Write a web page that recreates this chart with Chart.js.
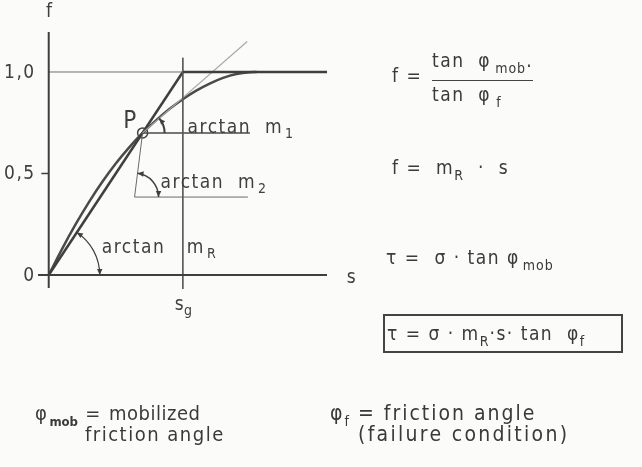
<!DOCTYPE html>
<html>
<head>
<meta charset="utf-8">
<script src="https://cdn.jsdelivr.net/npm/chart.js@4.4.1/dist/chart.umd.min.js"></script>
<style>
  html, body { margin: 0; padding: 0; background: #fbfbfa; }
  #wrap { position: relative; width: 642px; height: 467px; overflow: hidden; }
  #wrap canvas { position: absolute; left: 0; top: 0; }
  .t {
    position: absolute;
    font-family: "DejaVu Sans Condensed", "DejaVu Sans", sans-serif;
    font-size: 19px;
    letter-spacing: 1.5px;
    color: #3a3a3a;
    line-height: 1;
    white-space: nowrap;
  }
  .sub { font-size: 14px; position: relative; top: 6px; letter-spacing: 1px; }
  .subb { font-size: 13px; position: relative; top: 6px; font-weight: bold; letter-spacing: 0; margin-left: 1px; }
  .frac { position: absolute; border-top: 1.5px solid #444; height: 0; }
  .box { position: absolute; border: 2px solid #444; }
</style>
</head>
<body>
<div id="wrap">
  <canvas id="c" width="642" height="467"></canvas>

  <!-- definition of the utilisation ratio -->
  <div class="t" style="left:392px; top:66px;">f =</div>
  <div class="t" style="left:432px; top:51px;">tan &nbsp;φ<span class="sub" style="margin-left:4px">mob</span>.</div>
  <div class="frac" style="left:432px; top:80px; width:101px;"></div>
  <div class="t" style="left:432px; top:85px;">tan &nbsp;φ<span class="sub">&nbsp;f</span></div>

  <div class="t" style="left:392px; top:158px;">f = &nbsp;m<span class="sub">R</span> &nbsp;· &nbsp;s</div>

  <div class="t" style="left:386px; top:248px;">τ = &nbsp;σ · tan φ<span class="sub" style="margin-left:3px">mob</span></div>

  <div class="box" style="left:383px; top:314px; width:236px; height:35px;"></div>
  <div class="t" style="left:387px; top:324px;">τ = σ · m<span class="sub">R</span>·s· tan &nbsp;φ<span class="sub">f</span></div>

  <!-- legend of symbols -->
  <div class="t" style="left:35px; top:403px; font-size:20px;">φ<span class="subb">mob</span> = <span style="letter-spacing:0.5px">mobilized</span></div>
  <div class="t" style="left:85px; top:424px; font-size:20px;">friction angle</div>
  <div class="t" style="left:330px; top:403px; font-size:21px; letter-spacing:2px;">φ<span class="sub">f</span> = friction angle</div>
  <div class="t" style="left:358px; top:424px; font-size:21px; letter-spacing:2.3px;">(failure condition)</div>
</div>

<script>
// mobilisation curve f(s)
const sCurve = [0, 0.1, 0.2, 0.3, 0.4, 0.5, 0.6, 0.7, 0.8, 0.9, 1.0, 1.1, 1.2, 1.3, 1.4, 1.5, 1.55];
const fCurve = [0, 0.129, 0.249, 0.359, 0.459, 0.549, 0.629, 0.70, 0.762, 0.818, 0.866, 0.908, 0.943, 0.971, 0.99, 0.999, 1.0];

// secant through the origin, slope m_R, reaching f = 1 at s_g
const sSecant = [0, 1.0];
const fSecant = [0, 1.0];

// characteristic points
const sG = 1.0;
const fLimit = 1.0;
const pointP = { s: 0.7, f: 0.7 };
const tangentEnd = { s: 1.48, f: 1.15 };
const m1End = 1.5;
const m2Corner = { s: 0.64, f: 0.384 };
const m2End = 1.485;

// axis extents and ticks
const sMin = -0.08, sMax = 2.075;
const fMin = -0.064, fMax = 1.197;
const yTicks = [0, 0.5, 1.0];
const yTickLabels = ['0', '0,5', '1,0'];

const INK = '#3f3f3f';
const FONT = '"DejaVu Sans Condensed", "DejaVu Sans", sans-serif';

const pts = (xs, ys) => xs.map((x, i) => ({ x, y: ys[i] }));
const seg = (a, b, color, width, extra) => Object.assign({
  data: [a, b], borderColor: color, borderWidth: width, pointRadius: 0,
  fill: false, tension: 0, clip: false
}, extra || {});

const datasets = [
  // axes
  seg({ x: 0, y: fMin }, { x: 0, y: fMax }, INK, 2),
  seg({ x: sMin, y: 0 }, { x: sMax, y: 0 }, INK, 2),
  // tick mark at 0,5
  seg({ x: -0.055, y: 0.5 }, { x: 0, y: 0.5 }, INK, 1.5),
  // f = 1 reference line: thin up to s_g, thick beyond
  seg({ x: 0, y: fLimit }, { x: sG, y: fLimit }, '#707070', 1),
  seg({ x: sG, y: fLimit }, { x: sMax, y: fLimit }, INK, 2.5),
  // s_g marker
  seg({ x: sG, y: 1.07 }, { x: sG, y: fMin - 0.005 }, '#5a5a5a', 1),
  // tangent at P
  seg({ x: pointP.s, y: pointP.f }, { x: tangentEnd.s, y: tangentEnd.f }, '#a8a8a8', 1.2),
  // horizontal reference at P
  seg({ x: pointP.s, y: pointP.f }, { x: m1End, y: pointP.f }, '#4a4a4a', 1.5),
  // construction for m_2
  { data: [{ x: pointP.s, y: pointP.f }, { x: m2Corner.s, y: m2Corner.f }, { x: m2End, y: m2Corner.f }],
    borderColor: '#6a6a6a', borderWidth: 1, pointRadius: 0, fill: false, tension: 0, clip: false },
  // secant m_R
  { data: pts(sSecant, fSecant), borderColor: INK, borderWidth: 2.5, pointRadius: 0,
    fill: false, tension: 0, clip: false },
  // mobilisation curve
  { data: pts(sCurve, fCurve), borderColor: '#4a4a4a', borderWidth: 2.5, pointRadius: 0,
    fill: false, cubicInterpolationMode: 'monotone', clip: false },
  // point P
  { data: [{ x: pointP.s, y: pointP.f }], showLine: false, pointRadius: 5, pointStyle: 'circle',
    pointBorderColor: INK, pointBorderWidth: 1.5, pointBackgroundColor: 'rgba(0,0,0,0)', clip: false }
];

function arrowHead(ctx, x, y, dx, dy, size) {
  const len = Math.hypot(dx, dy);
  dx /= len; dy /= len;
  const nx = -dy, ny = dx;
  ctx.beginPath();
  ctx.moveTo(x, y);
  ctx.lineTo(x - dx * size + nx * size * 0.45, y - dy * size + ny * size * 0.45);
  ctx.lineTo(x - dx * size - nx * size * 0.45, y - dy * size - ny * size * 0.45);
  ctx.closePath();
  ctx.fill();
}

// arc from angle a0 to a1 (canvas radians) with optional arrowheads at each end
function angleArc(ctx, cx, cy, r, a0, a1, width, arrows) {
  ctx.lineWidth = width;
  ctx.beginPath();
  ctx.arc(cx, cy, r, a0, a1, false);
  ctx.stroke();
  if (arrows[0]) {
    arrowHead(ctx, cx + r * Math.cos(a0), cy + r * Math.sin(a0), Math.sin(a0), -Math.cos(a0), 6);
  }
  if (arrows[1]) {
    arrowHead(ctx, cx + r * Math.cos(a1), cy + r * Math.sin(a1), -Math.sin(a1), Math.cos(a1), 6);
  }
}

const annotate = {
  id: 'annotate',
  afterDatasetsDraw(chart) {
    const { ctx, scales: { x, y } } = chart;
    const X = v => x.getPixelForValue(v);
    const Y = v => y.getPixelForValue(v);
    ctx.save();
    ctx.fillStyle = INK;
    ctx.strokeStyle = INK;

    const ox = X(0), oy = Y(0);
    const px = X(pointP.s), py = Y(pointP.f);

    // angle of the secant
    const aR = Math.atan2(Y(fSecant[1]) - oy, X(sSecant[1]) - ox);
    angleArc(ctx, ox, oy, 51, aR, 0, 1.2, [true, true]);

    // angle of the tangent at P
    const aT = Math.atan2(Y(tangentEnd.f) - py, X(tangentEnd.s) - px);
    angleArc(ctx, px, py, 22, aT, 0, 2, [true, false]);

    // angle for m_2
    const cx = X(m2Corner.s), cy = Y(m2Corner.f);
    const a2 = Math.atan2(py - cy, px - cx);
    angleArc(ctx, cx, cy, 24, a2, 0, 1.5, [true, true]);

    // texts
    ctx.textBaseline = 'middle';
    if ('letterSpacing' in ctx) ctx.letterSpacing = '1.5px';
    ctx.font = '19px ' + FONT;

    ctx.textAlign = 'right';
    yTicks.forEach((v, i) => ctx.fillText(yTickLabels[i], ox - 13, Y(v) + 1));

    ctx.textAlign = 'center';
    ctx.fillText('f', ox + 1, Y(fMax) - 20);
    ctx.fillText('s', X(sMax) + 25, oy + 3);
    ctx.fillText('s', X(sG) - 3, oy + 30);
    ctx.font = '14px ' + FONT;
    ctx.fillText('g', X(sG) + 6, oy + 36);

    ctx.font = '24px ' + FONT;
    ctx.fillText('P', px - 12, py - 11);

    ctx.textAlign = 'left';
    const label = (tx, ty, sub) => {
      ctx.font = '19px ' + FONT;
      ctx.fillText('arctan', tx, ty);
      const w = ctx.measureText('arctan  ').width;
      ctx.fillText('m', tx + w, ty);
      const wm = ctx.measureText('m').width;
      ctx.font = '14px ' + FONT;
      ctx.fillText(sub, tx + w + wm + 2, ty + 6);
    };
    label(px + 45, py - 5, '1');
    label(cx + 26, cy - 14, '2');
    // m_R label straddles the s_g line
    ctx.font = '19px ' + FONT;
    ctx.fillText('arctan', ox + 53, oy - 27);
    ctx.fillText('m', X(sG) + 4, oy - 27);
    const wm = ctx.measureText('m').width;
    ctx.font = '14px ' + FONT;
    ctx.fillText('R', X(sG) + 6 + wm, oy - 21);

    ctx.restore();
  }
};

new Chart(document.getElementById('c'), {
  type: 'line',
  data: { datasets },
  options: {
    responsive: false,
    animation: false,
    events: [],
    layout: { padding: { left: 38, right: 315, top: 32, bottom: 179 } },
    plugins: { legend: { display: false }, tooltip: { enabled: false } },
    scales: {
      x: { type: 'linear', min: sMin, max: sMax, display: false },
      y: { type: 'linear', min: fMin, max: fMax, display: false }
    }
  },
  plugins: [annotate]
});
</script>
</body>
</html>
